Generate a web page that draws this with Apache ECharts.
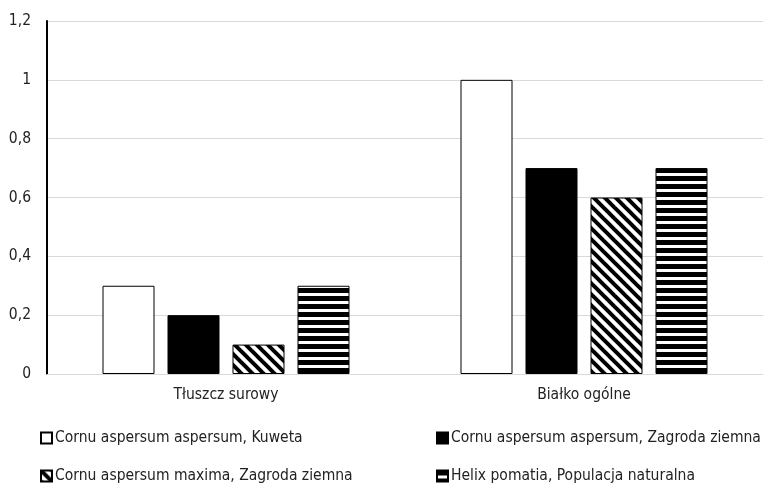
<!DOCTYPE html>
<html>
<head>
<meta charset="utf-8">
<script src="https://cdn.jsdelivr.net/npm/echarts@6/dist/echarts.min.js"></script>
<style>
  html, body { margin: 0; padding: 0; background: #fff; }
  #chart { width: 763px; height: 486px; }
</style>
</head>
<body>
<div id="chart"></div>
<script>
const categories = ['Tłuszcz surowy', 'Białko ogólne'];
const seriesNames = [
  'Cornu aspersum aspersum, Kuweta',
  'Cornu aspersum aspersum, Zagroda ziemna',
  'Cornu aspersum maxima, Zagroda ziemna',
  'Helix pomatia, Populacja naturalna'
];
const kuweta = [0.3, 1.0];
const zagrodaAspersum = [0.2, 0.7];
const zagrodaMaxima = [0.1, 0.6];
const helixPomatia = [0.3, 0.7];
const yTicks = [0, 0.2, 0.4, 0.6, 0.8, 1, 1.2];

const FONT = '"DejaVu Sans Condensed", "Liberation Sans Narrow", "Open Sans", sans-serif';

// Diagonal hatch ("\" direction) tile; lines run past the tile edges so corners join cleanly
function diagonalPattern() {
  const s = 11;
  const c = document.createElement('canvas');
  c.width = s; c.height = s;
  const g = c.getContext('2d');
  g.fillStyle = '#fff'; g.fillRect(0, 0, s, s);
  g.strokeStyle = '#000'; g.lineWidth = 4;
  for (let k = -2; k <= 2; k++) {
    g.beginPath();
    g.moveTo(k * s - s, -s);
    g.lineTo(k * s + 2 * s, 2 * s);
    g.stroke();
  }
  return c;
}
// Horizontal stripe tile
function horizontalPattern() {
  const c = document.createElement('canvas');
  c.width = 8; c.height = 8;
  const g = c.getContext('2d');
  g.fillStyle = '#fff'; g.fillRect(0, 0, 8, 8);
  g.fillStyle = '#000'; g.fillRect(0, 0, 8, 5);
  return c;
}

const fills = [
  '#ffffff',
  '#000000',
  { image: diagonalPattern(), repeat: 'repeat' },
  { image: horizontalPattern(), repeat: 'repeat' }
];
const values = [kuweta, zagrodaAspersum, zagrodaMaxima, helixPomatia];

const chart = echarts.init(document.getElementById('chart'), null, { renderer: 'canvas' });

const legendPos = [
  { left: 40, top: 430 },
  { left: 436, top: 430 },
  { left: 40, top: 468 },
  { left: 436, top: 468 }
];

chart.setOption({
  animation: false,
  textStyle: { fontFamily: FONT },
  grid: { left: 47, right: 0, top: 21, bottom: 112, containLabel: false },
  xAxis: {
    type: 'category',
    data: categories,
    axisLine: { lineStyle: { color: '#d9d9d9', width: 1 } },
    axisTick: { show: false },
    axisLabel: { color: '#222', fontSize: 15.5, margin: 13, fontFamily: FONT }
  },
  yAxis: {
    type: 'value',
    min: 0, max: 1.2, interval: 0.2,
    axisLine: { show: true, lineStyle: { color: '#000', width: 2 } },
    axisTick: { show: false },
    splitLine: { lineStyle: { color: '#d9d9d9', width: 1 } },
    axisLabel: {
      color: '#222', fontSize: 15.5, margin: 16, fontFamily: FONT,
      formatter: v => {
        const t = yTicks.find(x => Math.abs(x - v) < 1e-9);
        return String(t !== undefined ? t : v).replace('.', ',');
      }
    }
  },
  legend: seriesNames.map((name, i) => ({
    data: [name],
    left: legendPos[i].left,
    top: legendPos[i].top,
    icon: 'rect',
    itemWidth: 11,
    itemHeight: 11,
    itemGap: 4,
    padding: 0,
    textStyle: { fontSize: 15.5, color: '#222', fontFamily: FONT, padding: [0, 0, 0, -2] }
  })),
  series: seriesNames.map((name, i) => ({
    name,
    type: 'bar',
    data: values[i],
    barWidth: 52,
    barGap: '25%',
    itemStyle: { color: fills[i], borderColor: '#000', borderWidth: 1 }
  }))
});
</script>
</body>
</html>
